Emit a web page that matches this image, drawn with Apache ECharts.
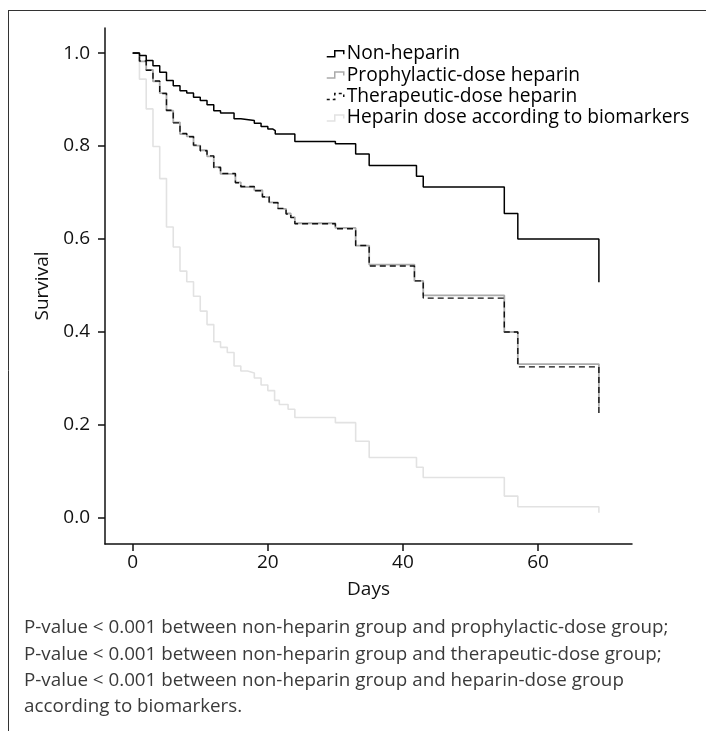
<!DOCTYPE html>
<html><head><meta charset="utf-8">
<script src="https://cdn.jsdelivr.net/npm/echarts@6/dist/echarts.min.js"></script>
<style>html,body{margin:0;padding:0;background:#fff}#c{width:706px;height:731px}</style>
</head><body><div id="c"></div>
<script>
const seriesNames = ['Non-heparin', 'Prophylactic-dose heparin', 'Therapeutic-dose heparin', 'Heparin dose according to biomarkers'];

const nonHeparinDays = [0, 1, 2, 3, 4, 5, 6, 7, 8, 9, 10, 11, 12, 13, 15, 16, 18, 19, 20, 20.7, 21.1, 24, 30, 33, 35, 42, 43, 55, 57, 69];
const nonHeparinSurv = [1.0, 0.995, 0.984, 0.973, 0.959, 0.941, 0.930, 0.919, 0.914, 0.905, 0.898, 0.889, 0.876, 0.871, 0.859, 0.855, 0.849, 0.842, 0.837, 0.833, 0.826, 0.810, 0.805, 0.783, 0.758, 0.735, 0.712, 0.655, 0.600, 0.507];

const prophylacticDays = [0, 1, 2, 3, 4, 5, 6, 7, 8, 9, 10, 11, 12, 13, 15.2, 16, 18, 19.2, 20.2, 21.5, 22.7, 23.4, 24, 30, 33, 35, 41.7, 43, 55, 57, 69];
const prophylacticSurv = [1.0, 0.982, 0.964, 0.939, 0.914, 0.876, 0.851, 0.826, 0.821, 0.801, 0.791, 0.778, 0.755, 0.740, 0.722, 0.712, 0.705, 0.690, 0.679, 0.665, 0.655, 0.647, 0.634, 0.624, 0.586, 0.545, 0.510, 0.479, 0.400, 0.331, 0.239];

const therapeuticDays = [0, 1, 2, 3, 4, 5, 6, 7, 8, 9, 10, 11, 12, 13, 15.2, 16, 18, 19.2, 20.2, 21.5, 22.7, 23.4, 24, 30, 33, 35, 41.7, 43, 55, 57, 69];
const therapeuticSurv = [1.0, 0.983, 0.963, 0.940, 0.913, 0.877, 0.850, 0.827, 0.820, 0.802, 0.790, 0.779, 0.754, 0.741, 0.721, 0.713, 0.704, 0.691, 0.678, 0.666, 0.654, 0.646, 0.633, 0.622, 0.586, 0.542, 0.510, 0.473, 0.400, 0.325, 0.226];

const biomarkerDays = [0, 1, 2, 3, 4, 5, 6, 7, 8, 9, 10, 11, 12, 13, 14, 15, 16, 17, 18, 19, 20, 21, 21.7, 23, 24, 30, 33, 35, 42, 43, 55, 57, 69];
const biomarkerSurv = [1.0, 0.944, 0.880, 0.799, 0.730, 0.626, 0.583, 0.531, 0.508, 0.477, 0.445, 0.416, 0.379, 0.367, 0.356, 0.327, 0.316, 0.312, 0.301, 0.286, 0.274, 0.253, 0.244, 0.234, 0.216, 0.205, 0.165, 0.130, 0.109, 0.087, 0.047, 0.024, 0.011];

const xTicks = [0, 20, 40, 60];
const yTicks = [0, 0.2, 0.4, 0.6, 0.8, 1.0];
const xAxisTitle = 'Days';
const yAxisTitle = 'Survival';
const footnotes = [
  'P-value < 0.001 between non-heparin group and prophylactic-dose group;',
  'P-value < 0.001 between non-heparin group and therapeutic-dose group;',
  'P-value < 0.001 between non-heparin group and heparin-dose group',
  'according to biomarkers.'
];

function pairs(d, s) { return d.map((v, i) => [v, s[i]]); }

const FONT = '"Open Sans", "Noto Sans", sans-serif';
const chart = echarts.init(document.getElementById('c'), null, {renderer: 'canvas'});

const stepIcon = 'path://M0,6 L8,6 L8,0 L17,0 L17,3.5';

const footY = [628, 655, 681, 707];
const graphics = [
  {type: 'line', shape: {x1: 8, y1: 10.5, x2: 706, y2: 10.5}, style: {stroke: '#333', lineWidth: 1}, silent: true},
  {type: 'line', shape: {x1: 8.5, y1: 10, x2: 8.5, y2: 731}, style: {stroke: '#333', lineWidth: 1}, silent: true}
].concat(footnotes.map((t, i) => ({
  type: 'text', silent: true,
  style: {text: t, x: 24, y: footY[i], verticalAlign: 'middle', fill: '#3a3a3a', font: '18.8px ' + FONT}
})));

chart.setOption({
  animation: false,
  backgroundColor: '#fff',
  grid: {left: 105, right: 74, top: 28, bottom: 187, containLabel: false},
  xAxis: {
    type: 'value', min: -4.1, max: 73.9,
    name: xAxisTitle, nameLocation: 'middle', nameGap: 36,
    nameTextStyle: {fontFamily: FONT, fontSize: 19, color: '#111'},
    axisLine: {show: true, onZero: false, lineStyle: {color: '#111', width: 1.5}},
    axisTick: {show: true, length: 7, inside: false, customValues: xTicks, lineStyle: {color: '#111', width: 1.5}},
    axisLabel: {customValues: xTicks, margin: 9, fontFamily: FONT, fontSize: 19, color: '#111'},
    splitLine: {show: false}
  },
  yAxis: {
    type: 'value', min: -0.056, max: 1.054,
    name: yAxisTitle, nameLocation: 'middle', nameGap: 51, nameRotate: 90,
    nameTextStyle: {fontFamily: FONT, fontSize: 19, color: '#111'},
    axisLine: {show: true, onZero: false, lineStyle: {color: '#111', width: 1.5}},
    axisTick: {show: true, length: 7, inside: false, customValues: yTicks, lineStyle: {color: '#111', width: 1.5}},
    axisLabel: {customValues: yTicks, margin: 15, fontFamily: FONT, fontSize: 19, color: '#111', formatter: v => v.toFixed(1)},
    splitLine: {show: false}
  },
  legend: {
    orient: 'vertical', left: 326, top: 43, itemGap: 0,
    itemWidth: 17, itemHeight: 6, padding: 0,
    textStyle: {fontFamily: FONT, fontSize: 19.2, color: '#000', lineHeight: 21.4, padding: [0, 0, 0, -2]},
    data: [
      {name: seriesNames[0], icon: stepIcon, itemStyle: {color: 'transparent', borderColor: '#000', borderWidth: 1.5}},
      {name: seriesNames[1], icon: stepIcon, itemStyle: {color: 'transparent', borderColor: '#aaa', borderWidth: 1.5}},
      {name: seriesNames[2], icon: stepIcon, itemStyle: {color: 'transparent', borderColor: '#111', borderWidth: 1.5, borderType: [3, 3]}},
      {name: seriesNames[3], icon: stepIcon, itemStyle: {color: 'transparent', borderColor: '#e2e2e2', borderWidth: 1.5}}
    ]
  },
  graphic: graphics,
  series: [
    {name: seriesNames[3], type: 'line', step: 'end', showSymbol: false, data: pairs(biomarkerDays, biomarkerSurv),
     lineStyle: {color: '#e2e2e2', width: 1.6}, itemStyle: {color: '#e2e2e2'}, z: 2},
    {name: seriesNames[1], type: 'line', step: 'end', showSymbol: false, data: pairs(prophylacticDays, prophylacticSurv),
     lineStyle: {color: '#aaa', width: 1.8}, itemStyle: {color: '#aaa'}, z: 3},
    {name: seriesNames[2], type: 'line', step: 'end', showSymbol: false, data: pairs(therapeuticDays, therapeuticSurv),
     lineStyle: {color: '#111', width: 1.4, type: [6, 4]}, itemStyle: {color: '#111'}, z: 4},
    {name: seriesNames[0], type: 'line', step: 'end', showSymbol: false, data: pairs(nonHeparinDays, nonHeparinSurv),
     lineStyle: {color: '#000', width: 1.5}, itemStyle: {color: '#000'}, z: 5}
  ]
});
</script></body></html>
